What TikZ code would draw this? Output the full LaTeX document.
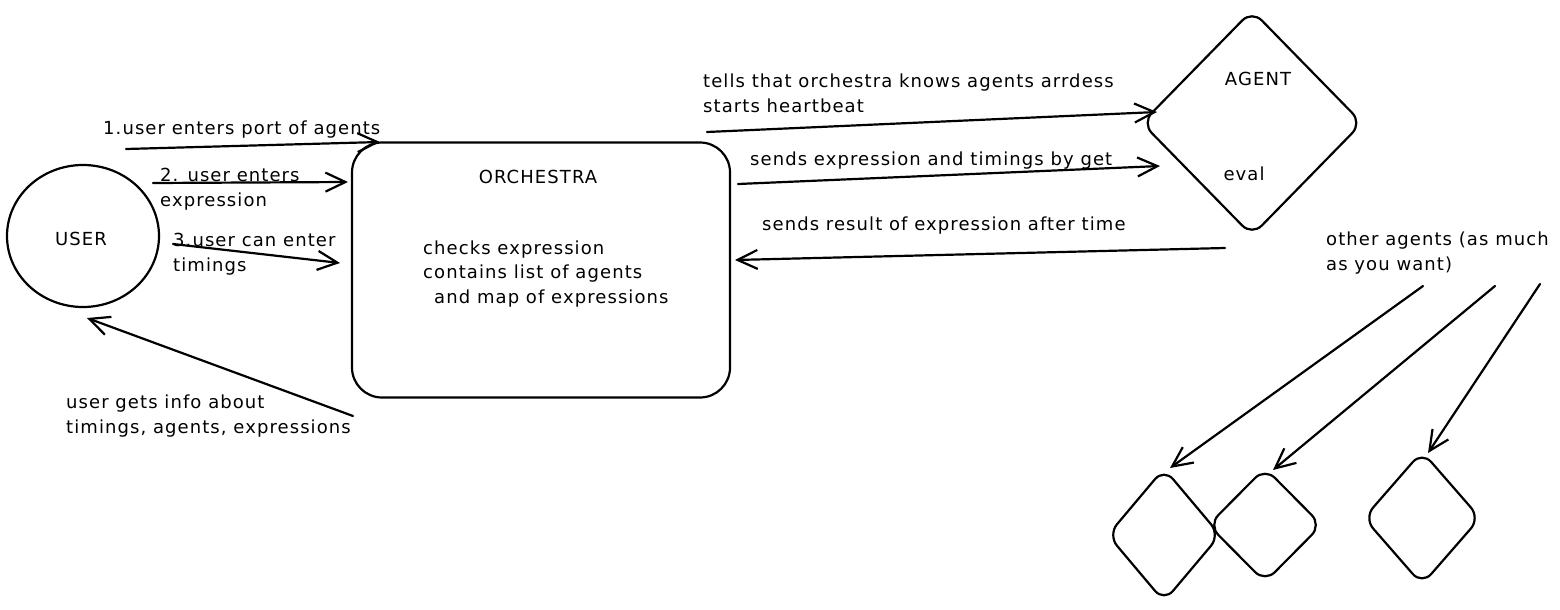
\documentclass[tikz,border=0pt]{standalone}
\usepackage{fontspec}
\setmainfont[LetterSpace=6]{DejaVu Sans}
\usetikzlibrary{arrows.meta,shapes.geometric,calc}
\begin{document}
\begin{tikzpicture}[x=1pt,y=-1pt,
  stroke/.style={line width=2.2pt, line cap=round, line join=round},
  flow/.style={stroke, -{Straight Barb[length=20pt,width=19pt,line width=2.2pt]}},
  txt/.style={font=\fontsize{18}{24.5}\selectfont, inner sep=0pt, anchor=base west, align=left},
  ctxt/.style={font=\fontsize{18}{24.5}\selectfont, inner sep=0pt, anchor=base},
  agentbox/.style={stroke, draw, diamond, inner sep=0pt, rounded corners=14pt},
]
\useasboundingbox (0,0) rectangle (1560,610);

% main actors
\node[stroke, draw, ellipse, minimum width=152pt, minimum height=142pt] (user) at (83,236) {};
\node[ctxt] (userlbl) at (81,245) {USER};

\node[stroke, draw, rectangle, rounded corners=30pt, minimum width=378pt, minimum height=255pt] (orch) at (541,270) {};
\node[ctxt] (orchlbl) at (538,183) {ORCHESTRA};
\node[txt] (orchbody) at (423,303) {checks expression\\contains list of agents\\\hspace{11pt}and map of expressions};

\node[agentbox, minimum width=221pt, minimum height=226pt] (agent) at (1252,123) {};
\node[ctxt] (agentlbl) at (1258,85) {AGENT};
\node[ctxt] (evallbl) at (1244,180) {eval};

% further agents
\node[agentbox, minimum width=113pt, minimum height=134pt] (ag1) at (1164,535) {};
\node[agentbox, minimum width=114pt, minimum height=115pt] (ag2) at (1265,525) {};
\node[agentbox, minimum width=117pt, minimum height=134pt] (ag3) at (1422,518) {};

% end points of the connectors
\coordinate (u1) at (126,149);
\coordinate (o1) at (380,142);
\coordinate (u2) at (153,183);
\coordinate (o2) at (348,182);
\coordinate (u3) at (173,244);
\coordinate (o3) at (340,263);
\coordinate (o4) at (353,416);
\coordinate (u4) at (87,318);
\coordinate (o5) at (707,132);
\coordinate (a5) at (1157,112);
\coordinate (o6) at (738,184);
\coordinate (a6) at (1160,166);
\coordinate (a7) at (1225,248);
\coordinate (o7) at (735,260);
\coordinate (n1) at (1423,286);
\coordinate (n2) at (1495,286);
\coordinate (n3) at (1540,284);
\coordinate (t1) at (1170,468);
\coordinate (t2) at (1273,470);
\coordinate (t3) at (1428,453);

% user <-> orchestra
\draw[flow] (u1) -- (o1);
\draw[flow] (u2) -- (o2);
\draw[flow] (u3) -- (o3);
\draw[flow] (o4) -- (u4);
\node[txt] (l1) at (103,134) {1.user enters port of agents};
\node[txt] (l2) at (160,206) {2. user enters\\expression};
\node[txt] (l3) at (173,271) {3.user can enter\\timings};
\node[txt] (l4) at (66,433) {user gets info about\\timings, agents, expressions};

% orchestra <-> agent
\draw[flow] (o5) -- (a5);
\draw[flow] (o6) -- (a6);
\draw[flow] (a7) -- (o7);
\node[txt] (l5) at (703,112) {tells that orchestra knows agents arrdess\\starts heartbeat};
\node[txt] (l6) at (750,165) {sends expression and timings by get};
\node[txt] (l7) at (762,230) {sends result of expression after time};

% other agents
\node[txt] (l8) at (1326,270) {other agents (as much\\as you want)};
\draw[flow] (n1) -- (t1);
\draw[flow] (n2) -- (t2);
\draw[flow] (n3) -- (t3);
\end{tikzpicture}
\end{document}
